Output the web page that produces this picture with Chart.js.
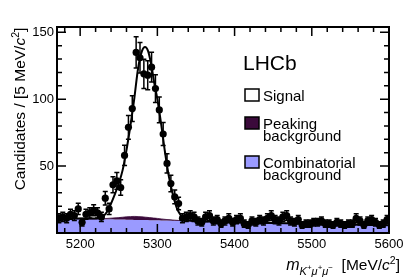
<!DOCTYPE html>
<html>
<head>
<meta charset="utf-8">
<script src="https://cdn.jsdelivr.net/npm/chart.js@4.4.1/dist/chart.umd.min.js"></script>
<style>
body { margin: 0; background: #fff; }
#wrap { width: 410px; height: 278px; }
</style>
</head>
<body>
<div id="wrap"><canvas id="chart" width="410" height="278"></canvas></div>
<script>
// binned data, 5 MeV bins from 5170 to 5600
var binLow = 5170;
var binWidth = 5;
var counts = [
    11, 12, 11, 14, 13, 18, 8, 14, 15, 17,
    15, 12, 26, 18, 36, 39, 34, 58, 79, 93,
    135, 131, 119, 118, 124, 108, 92, 74, 52, 37,
    27, 22, 11, 12, 13, 12, 9, 8, 12, 13,
    9, 10, 7, 9, 11, 8, 10, 11, 7, 6,
    9, 8, 10, 9, 11, 13, 10, 9, 12, 13,
    9, 8, 10, 6, 7, 7, 8, 8, 9, 7,
    7, 6, 8, 7, 6, 7, 7, 11, 9, 6,
    9, 10, 8, 6, 7, 10
];

// total fit curve
var fitMass = [5170, 5185, 5200, 5215, 5225, 5230, 5235, 5240, 5245, 5250, 5255, 5260, 5265, 5270, 5275, 5280, 5284, 5288, 5292, 5296, 5300, 5305, 5310, 5315, 5320, 5325, 5330, 5335, 5340, 5350, 5375, 5400, 5450, 5500, 5550, 5600];
var fitTotal = [11.2, 11.0, 10.8, 10.8, 11.2, 12.5, 16, 22, 29, 37, 47, 62, 80, 100, 123, 136, 139, 136, 126, 112, 100, 81, 60, 42, 29, 19, 13.5, 10.8, 9.6, 8.9, 8.4, 8.0, 7.4, 6.8, 6.3, 5.8];

// fit components
var compMass = [5170, 5200, 5220, 5230, 5240, 5250, 5260, 5270, 5280, 5290, 5300, 5310, 5320, 5330, 5340, 5350, 5400, 5450, 5500, 5550, 5600];
var combBkg = [11.0, 10.6, 10.4, 10.3, 10.2, 10.0, 9.9, 9.8, 9.7, 9.6, 9.5, 9.3, 9.2, 9.0, 8.9, 8.7, 8.0, 7.4, 6.8, 6.3, 5.8];
var peakingBkg = [0, 0, 0.1, 0.4, 0.9, 1.5, 2.2, 2.6, 2.4, 1.9, 1.4, 0.9, 0.5, 0.3, 0.1, 0, 0, 0, 0, 0, 0];

var xTickLabels = [5200, 5300, 5400, 5500, 5600];
var yTickLabels = [50, 100, 150];

var combColor = '#9a9aff';
var peakColor = '#3b0a3b';
var FONT = '"Liberation Sans", Arial, sans-serif';

var points = counts.map((c, i) => ({ x: binLow + binWidth * (i + 0.5), y: c }));
var errors = counts.map(c => Math.sqrt(c));

function font(size, italic) {
    return (italic ? 'italic ' : '') + size + 'px ' + FONT;
}

function drawRich(ctx, parts, x, y, align) {
    var w = 0;
    parts.forEach(p => {
        ctx.font = font(p.size, p.italic);
        p.w = ctx.measureText(p.text).width;
        w += p.w;
    });
    var cx = align === 'right' ? x - w : (align === 'center' ? x - w / 2 : x);
    parts.forEach(p => {
        ctx.font = font(p.size, p.italic);
        ctx.fillText(p.text, cx, y + (p.dy || 0));
        cx += p.w;
    });
}

var lhcbPlugin = {
    id: 'lhcb',
    afterDatasetsDraw(chart) {
        var ctx = chart.ctx;
        var xs = chart.scales.x, ys = chart.scales.y;
        ctx.save();
        ctx.strokeStyle = '#000';
        ctx.lineWidth = 1.5;
        points.forEach((p, i) => {
            var px = xs.getPixelForValue(p.x);
            var top = ys.getPixelForValue(p.y + errors[i]);
            var bot = ys.getPixelForValue(Math.max(0, p.y - errors[i]));
            ctx.beginPath();
            ctx.moveTo(px, top); ctx.lineTo(px, bot);
            ctx.moveTo(px - 2.5, top); ctx.lineTo(px + 2.5, top);
            ctx.moveTo(px - 2.5, bot); ctx.lineTo(px + 2.5, bot);
            ctx.stroke();
        });
        ctx.restore();
    },
    afterDraw(chart) {
        var ctx = chart.ctx;
        var a = chart.chartArea;
        var xs = chart.scales.x, ys = chart.scales.y;
        ctx.save();
        ctx.strokeStyle = '#000';
        ctx.fillStyle = '#000';

        // inward ticks on all four sides
        ctx.lineWidth = 1.5;
        ctx.beginPath();
        for (var m = 5180; m <= 5600; m += 20) {
            var px = xs.getPixelForValue(m);
            var len = m % 100 === 0 ? 9 : 5;
            ctx.moveTo(px, a.bottom); ctx.lineTo(px, a.bottom - len);
            ctx.moveTo(px, a.top); ctx.lineTo(px, a.top + len);
        }
        for (var v = 10; v <= 150; v += 10) {
            var py = ys.getPixelForValue(v);
            var l2 = v % 50 === 0 ? 9 : 5;
            ctx.moveTo(a.left, py); ctx.lineTo(a.left + l2, py);
            ctx.moveTo(a.right, py); ctx.lineTo(a.right - l2, py);
        }
        ctx.stroke();

        // frame
        ctx.lineWidth = 2;
        ctx.strokeRect(a.left, a.top, a.right - a.left, a.bottom - a.top);

        // y title
        ctx.save();
        ctx.translate(25, 109);
        ctx.rotate(-Math.PI / 2);
        ctx.textBaseline = 'alphabetic';
        drawRich(ctx, [
            { text: 'Candidates / [5 MeV/', size: 15.5 },
            { text: 'c', size: 15.5, italic: true },
            { text: '2', size: 10.5, dy: -6 },
            { text: ']', size: 15.5 }
        ], 0, 0, 'center');
        ctx.restore();

        // x title
        drawRich(ctx, [
            { text: 'm', size: 16, italic: true },
            { text: 'K', size: 11, italic: true, dy: 5 },
            { text: '+', size: 8, dy: 0 },
            { text: 'μ', size: 11, italic: true, dy: 5 },
            { text: '+', size: 8, dy: 0 },
            { text: 'μ', size: 11, italic: true, dy: 5 },
            { text: '−', size: 8, dy: 0 },
            { text: '  [MeV/', size: 15.5 },
            { text: 'c', size: 15.5, italic: true },
            { text: '2', size: 10.5, dy: -6 },
            { text: ']', size: 15.5 }
        ], 400, 270, 'right');

        // legend
        ctx.font = font(21);
        ctx.fillText('LHCb', 243, 70);
        ctx.lineWidth = 1.5;
        var boxes = [
            { y: 89, color: '#fff', lines: ['Signal'] },
            { y: 117, color: peakColor, lines: ['Peaking', 'background'] },
            { y: 156, color: combColor, lines: ['Combinatorial', 'background'] }
        ];
        boxes.forEach(b => {
            ctx.fillStyle = b.color;
            ctx.fillRect(245, b.y, 14, 12);
            ctx.strokeRect(245, b.y, 14, 12);
            ctx.fillStyle = '#000';
            ctx.font = font(15);
            b.lines.forEach((t, k) => ctx.fillText(t, 263, b.y + 12 + k * 12));
        });
        ctx.restore();
    }
};

var ctx = document.getElementById('chart').getContext('2d');

var chart = new Chart(ctx, {
    type: 'line',
    data: {
        datasets: [{
            label: 'Combinatorial background',
            data: compMass.map((m, i) => ({ x: m, y: combBkg[i] })),
            fill: 'origin',
            backgroundColor: combColor,
            borderWidth: 0,
            pointRadius: 0,
            tension: 0.3,
            order: 4
        }, {
            label: 'Peaking background',
            data: compMass.map((m, i) => ({ x: m, y: combBkg[i] + peakingBkg[i] })),
            fill: '-1',
            backgroundColor: peakColor,
            borderColor: peakColor,
            borderWidth: 0.8,
            pointRadius: 0,
            tension: 0.3,
            order: 3
        }, {
            label: 'Fit',
            data: fitMass.map((m, i) => ({ x: m, y: fitTotal[i] })),
            fill: false,
            borderColor: '#000',
            borderWidth: 2,
            pointRadius: 0,
            cubicInterpolationMode: 'monotone',
            order: 2
        }, {
            label: 'Data',
            data: points,
            showLine: false,
            pointRadius: 3.6,
            pointBackgroundColor: '#000',
            pointBorderWidth: 0,
            order: 1
        }]
    },
    options: {
        responsive: false,
        animation: false,
        layout: { padding: { top: 27, right: 21, left: 0, bottom: 0 } },
        plugins: { legend: { display: false }, tooltip: { enabled: false } },
        scales: {
            x: {
                type: 'linear',
                min: 5170,
                max: 5600,
                grid: { display: false, drawTicks: false },
                border: { display: false },
                afterFit: s => { s.height = 45; },
                afterBuildTicks: s => { s.ticks = xTickLabels.map(v => ({ value: v })); },
                ticks: {
                    autoSkip: false,
                    maxRotation: 0,
                    padding: 4,
                    color: '#000',
                    font: { family: FONT, size: 13 },
                    callback: v => String(v)
                }
            },
            y: {
                min: 0,
                max: 154,
                grid: { display: false, drawTicks: false },
                border: { display: false },
                afterFit: s => { s.width = 57; },
                afterBuildTicks: s => { s.ticks = yTickLabels.map(v => ({ value: v })); },
                ticks: {
                    padding: 3,
                    color: '#000',
                    font: { family: FONT, size: 13 },
                    callback: v => String(v)
                }
            }
        }
    },
    plugins: [lhcbPlugin]
});
</script>
</body>
</html>
